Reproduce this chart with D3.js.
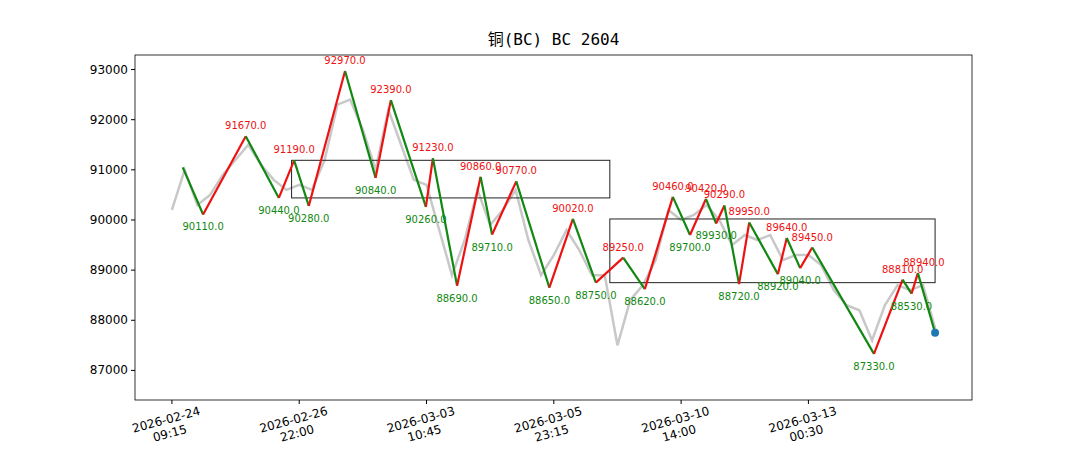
<!DOCTYPE html>
<html><head><meta charset="utf-8">
<script src="https://cdn.jsdelivr.net/npm/d3@7"></script>
<style>body{margin:0;background:#fff}svg{font-family:"DejaVu Sans",sans-serif}</style>
</head><body><svg id="c" width="1080" height="450"></svg>
<script>
const title = "铜(BC) BC 2604";
const tickIdx = [0,200,400,600,800,1000];
const tickLabels = [["2026-02-24","09:15"],["2026-02-26","22:00"],["2026-03-03","10:45"],["2026-03-05","23:15"],["2026-03-10","14:00"],["2026-03-13","00:30"]];
const yTicks = [87000,88000,89000,90000,91000,92000,93000];
// gray price, sampled every 20 bars
const price = [90200,91000,90300,90500,90900,91200,91500,91100,90800,90600,90700,90600,91200,92300,92400,91800,91000,92200,91500,90800,90700,89800,88900,89600,90600,89900,90200,90600,89600,88900,89300,89800,89400,88900,88900,87500,88400,88700,89200,90200,90000,90100,90300,90000,89500,89700,89600,89700,89200,89300,89300,89100,88600,88300,88200,87600,88300,88700,88600,88700,87800];
// zigzag pivots: bar index and price
const pivIdx = [17,49,116,168,192,215,272,320,344,399,410,448,485,503,541,593,630,666,709,743,787,814,839,855,868,891,907,952,966,987,1006,1103,1148,1162,1172,1199];
const pivVal = [91050,90110,91670,90440,91190,90280,92970,90840,92390,90260,91230,88690,90860,89710,90770,88650,90020,88750,89250,88620,90460,89700,90420,89930,90290,88720,89950,88920,89640,89040,89450,87330,88810,88530,88940,87750];
const boxes = [{i0:188,i1:688,lo:90440,hi:91190},{i0:688,i1:1199,lo:88750,hi:90020}];

const svg = d3.select("#c");
const L=135,R=972,T=55,B=400;
const x = d3.scaleLinear().domain([-58,1257]).range([L,R]);
const y = d3.scaleLinear().domain([86410,93290]).range([B,T]);
svg.append("text").attr("x",(L+R)/2).attr("y",45).attr("text-anchor","middle").attr("font-size",16).attr("font-family","DejaVu Sans Mono, Noto Sans CJK SC").text(title);
svg.append("rect").attr("x",L).attr("y",T).attr("width",R-L).attr("height",B-T).attr("fill","none").attr("stroke","#000").attr("stroke-width",0.8);
yTicks.forEach(v=>{svg.append("line").attr("x1",L-4).attr("x2",L).attr("y1",y(v)).attr("y2",y(v)).attr("stroke","#000");
 svg.append("text").attr("x",L-7).attr("y",y(v)+4).attr("text-anchor","end").attr("font-size",12).text(v);});
tickIdx.forEach((t,k)=>{const px=x(t);svg.append("line").attr("x1",px).attr("x2",px).attr("y1",B).attr("y2",B+4).attr("stroke","#000");
 const g=svg.append("g").attr("transform",`translate(${px},${B+10}) rotate(-15)`);
 g.append("text").attr("x",-8).attr("y",12).attr("text-anchor","middle").attr("font-size",12).text(tickLabels[k][0]);
 g.append("text").attr("x",-8).attr("y",26).attr("text-anchor","middle").attr("font-size",12).text(tickLabels[k][1]);});
svg.append("path").datum(price).attr("d",d3.line().x((d,i)=>x(i*20)).y(d=>y(d))).attr("fill","none").attr("stroke","#c8c8c8").attr("stroke-width",2.5);
boxes.forEach(b=>svg.append("rect").attr("x",x(b.i0)).attr("y",y(b.hi)).attr("width",x(b.i1)-x(b.i0)).attr("height",y(b.lo)-y(b.hi)).attr("fill","none").attr("stroke","#222").attr("stroke-width",1));
for(let k=0;k<pivIdx.length-1;k++){
 const up = pivVal[k+1]>pivVal[k];
 svg.append("line").attr("x1",x(pivIdx[k])).attr("y1",y(pivVal[k])).attr("x2",x(pivIdx[k+1])).attr("y2",y(pivVal[k+1]))
  .attr("stroke",up?"#ee1111":"#118811").attr("stroke-width",2.2);
}
for(let k=1;k<pivIdx.length-1;k++){
 const hi = pivVal[k]>pivVal[k-1];
 svg.append("text").attr("x",x(pivIdx[k])+(k==34?6:0)).attr("y",hi?y(pivVal[k])-7:y(pivVal[k])+16).attr("text-anchor","middle").attr("font-size",10)
  .attr("fill",hi?"#ee1111":"#118811").text(pivVal[k].toFixed(1));
}
const n=pivIdx.length-1;
svg.append("circle").attr("cx",x(pivIdx[n])).attr("cy",y(pivVal[n])).attr("r",4).attr("fill","#1f77b4");
</script></body></html>
